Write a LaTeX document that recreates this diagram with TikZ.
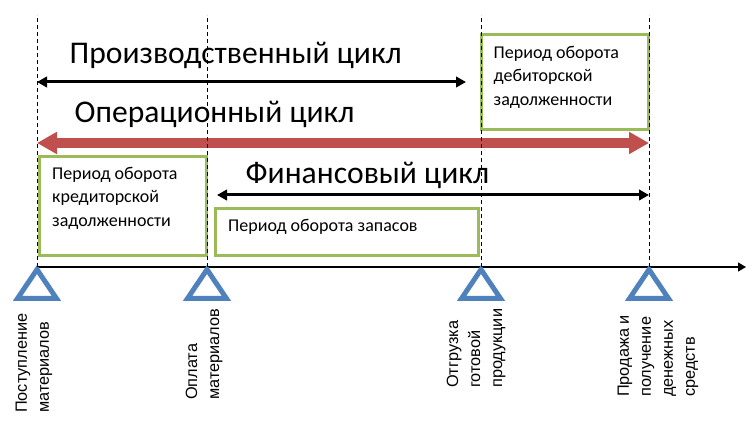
\documentclass[tikz,border=0pt]{standalone}
\usepackage{fontspec}
\setmainfont{Carlito}
\newfontfamily\eventfont{Liberation Sans}
\usepackage{tikz}
\usetikzlibrary{positioning,arrows.meta}
\definecolor{cyclered}{HTML}{C0504D}
\definecolor{periodgreen}{HTML}{9BBB59}
\definecolor{eventblue}{HTML}{4F81BD}

\begin{document}
\begin{tikzpicture}[x=1pt,y=-1pt,
    cycle/.style={font=\fontsize{31.6}{36}\selectfont, anchor=base west, inner sep=0pt},
    span/.style={line width=3pt, {Triangle[length=10pt,width=10.5pt]}-{Triangle[length=10pt,width=10.5pt]}},
    opcycle/.style={cyclered, line width=10pt, {Triangle[length=20pt,width=21pt]}-{Triangle[length=20pt,width=21pt]}},
    period/.style={draw=periodgreen, line width=3pt, anchor=north west, inner sep=0pt},
    periodtext/.style={font=\fontsize{18}{23.5}\selectfont, align=left, inner sep=0pt},
    event/.style={draw=eventblue, line width=5pt, line join=miter},
    eventlabel/.style={font=\eventfont\fontsize{16.3}{22}\selectfont, align=left, rotate=90, anchor=west, inner sep=0pt},
    guide/.style={dash pattern=on 4pt off 3pt, line width=0.8pt}]
  \useasboundingbox (0,0) rectangle (752,435);
  \coordinate (e1) at (37,267);
  \coordinate (e2) at (207,267);
  \coordinate (e3) at (481,267);
  \coordinate (e4) at (649,267);
  \coordinate (top) at (0,15);
  \coordinate (axisend) at (746,267);
  \coordinate (prodend) at (466,82);
  \coordinate (op) at (0,143);
  \coordinate (finstart) at (217,195);

  \node[period, minimum width=167.5pt, minimum height=99.5pt] (kred) at (37.5,155) {};
  \node[periodtext, below right=12pt and 14.5pt of kred.north west] (kredtext) {Период оборота\\кредиторской\\задолженности};
  \node[period, minimum width=262.5pt, minimum height=46.5pt] (zapas) at (214,207.5) {};
  \node[periodtext, below right=12pt and 14pt of zapas.north west] (zapastext) {Период оборота запасов};
  \node[period, minimum width=167pt, minimum height=94.5pt] (debit) at (480,33.5) {};
  \node[periodtext, below right=12.5pt and 13.5pt of debit.north west] (debittext) {Период оборота\\дебиторской\\задолженности};

  \node[cycle] (prod) at (69.5,63.5) {Производственный цикл};
  \node[cycle] (oper) at (74.5,123) {Операционный цикл};
  \node[cycle] (fin) at (245.5,184) {Финансовый цикл};

  \draw[span] (e1 |- prodend) -- (prodend);
  \draw[opcycle] (e1 |- op) -- (e4 |- op);
  \draw[span] (finstart) -- (e4 |- finstart);

  \draw[line width=1.2pt, -{Triangle[length=8pt,width=9pt]}] (e1) -- (axisend);
  \foreach \e in {e1,e2,e3,e4}{
    \draw[event] ([yshift=-2.5pt]\e) -- ++(-19.5,29) -- ++(39,0) -- cycle;
    \draw[guide] (\e) -- (\e |- top);
  }

  \node[eventlabel] (lab1) at (34,413) {Поступление\\материалов};
  \node[eventlabel] (lab2) at (204,400) {Оплата\\материалов};
  \node[eventlabel] (lab3) at (476,388) {Отгрузка\\готовой\\продукции};
  \node[eventlabel] (lab4) at (658,397) {Продажа и\\получение\\денежных\\средств};
\end{tikzpicture}
\end{document}
